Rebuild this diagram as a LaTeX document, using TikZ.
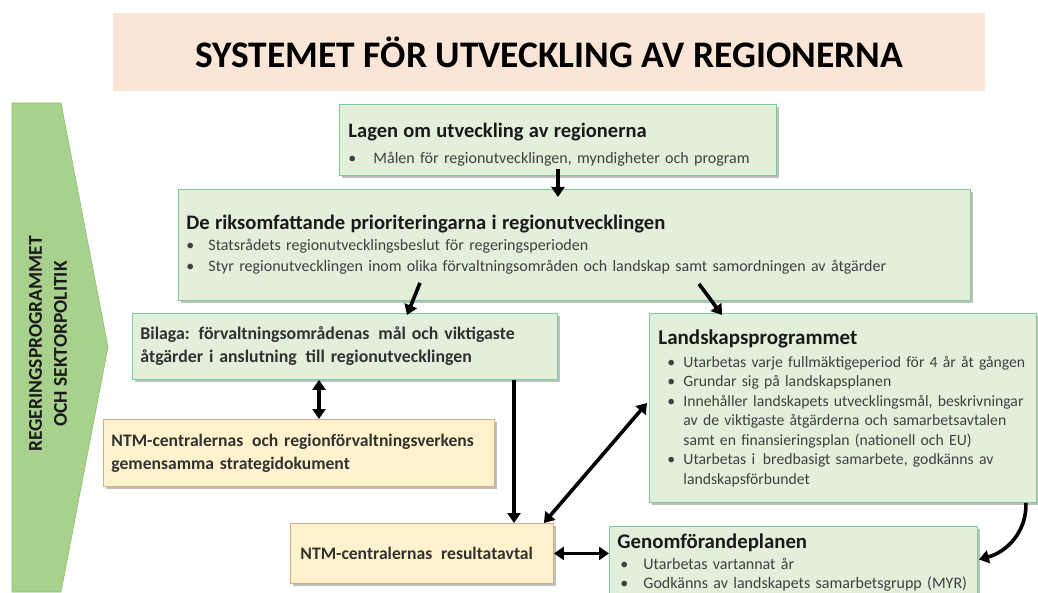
\documentclass[tikz,border=0pt]{standalone}
\usepackage{fontspec}
\setmainfont{Carlito}
\usetikzlibrary{arrows.meta,calc,shadows}
\definecolor{gfill}{HTML}{E2EFDA}
\definecolor{gline}{HTML}{7DCB97}
\definecolor{ofill}{HTML}{FFF2CC}
\definecolor{oline}{HTML}{DFA982}
\definecolor{pfill}{HTML}{FBE5D6}
\definecolor{cfill}{HTML}{A9D18E}
\definecolor{cline}{HTML}{8CBF70}
\definecolor{txt}{HTML}{404040}
\definecolor{ttl}{HTML}{1A1A1A}
\newcommand\fs[2]{\fontsize{#1}{#2}\selectfont}
\newcommand\bli[2]{\hspace*{#1}\makebox[#2][l]{\textbullet}}
\tikzset{
  boxbase/.style={line width=0.9pt, anchor=north west, align=left, inner ysep=0pt,
    drop shadow={shadow xshift=2.5pt, shadow yshift=-2.5pt, opacity=0.25, fill=black}},
  gbox/.style={boxbase, draw=gline, fill=gfill, text=txt},
  obox/.style={boxbase, draw=oline, fill=ofill, text=ttl!90, font=\bfseries\fs{17.6}{23}},
  arr/.style={line width=3.6pt, -{Triangle[length=10pt,width=13pt]}},
  darr/.style={line width=3.6pt, {Triangle[length=10pt,width=13pt]}-{Triangle[length=10pt,width=13pt]}},
}
\begin{document}
\begin{tikzpicture}[x=1pt,y=-1pt]
\useasboundingbox (0,0) rectangle (1038,593);
% title banner
\node[fill=pfill, anchor=north west, minimum width=872pt, minimum height=78pt, inner sep=0pt,
  font=\bfseries\fs{37.5}{40}, text=black] (ban) at (113,13) {SYSTEMET FÖR UTVECKLING AV REGIONERNA};
% left chevron
\draw[cline, fill=cfill, line width=0.6pt] (12,103) -- (61,103) -- (108,347) -- (61,592) -- (12,592) -- cycle;
\node[rotate=90, align=center, font=\bfseries\fs{19.5}{25}, text=ttl] (chev) at (48,344) {REGERINGSPROGRAMMET\\OCH SEKTORPOLITIK};
% boxes
\node[gbox, minimum width=437pt, minimum height=71pt, text width=419pt, inner xsep=9pt, font=\fs{16}{20}] (b1) at (339,104)
 {\rule{0pt}{6pt}\\[-2pt]{\bfseries\color{ttl}\fs{20.5}{22}Lagen om utveckling av regionerna}\\[6pt]
  \mbox{\bli{0pt}{25pt}Målen för regionutvecklingen, myndigheter och program}};
\node[gbox, minimum width=792pt, minimum height=111pt, text width=776pt, inner xsep=8pt, font=\fs{16}{21}] (b2) at (178,189)
 {{\bfseries\color{ttl}\fs{20.6}{22}De riksomfattande prioriteringarna i regionutvecklingen}\\
  \mbox{\bli{0pt}{22pt}Statsrådets regionutvecklingsbeslut för regeringsperioden}\\
  \mbox{\bli{0pt}{22pt}Styr regionutvecklingen inom olika förvaltningsområden och landskap samt samordningen av åtgärder}};
\node[gbox, minimum width=425pt, minimum height=66pt, text width=409pt, inner xsep=8pt, text=ttl!90, font=\bfseries\fs{17.8}{23}] (b3) at (132,313)
 {\mbox{Bilaga: förvaltningsområdenas\, mål och viktigaste}\\
  \mbox{åtgärder i anslutning\, till regionutvecklingen}};
\node[obox, minimum width=391pt, minimum height=67pt, text width=375pt, inner xsep=8pt] (b4) at (103,419)
 {\mbox{NTM-centralernas\, och regionförvaltningsverkens}\\
  \mbox{gemensamma strategidokument}};
\node[obox, minimum width=263pt, minimum height=60pt, text width=243pt, inner xsep=10pt] (b5) at (290,523)
 {\mbox{NTM-centralernas\, resultatavtal}};
\node[gbox, minimum width=387pt, minimum height=189pt, text width=369pt, inner xsep=9pt, font=\fs{15.7}{19.5}] (b7) at (649,313)
 {{\bfseries\color{ttl}\fs{21}{22}Landskapsprogrammet}\\[3.5pt]
  \mbox{\bli{9pt}{16pt}Utarbetas varje fullmäktigeperiod för 4 år åt gången}\\
  \mbox{\bli{9pt}{16pt}Grundar sig på landskapsplanen}\\
  \mbox{\bli{9pt}{16pt}Innehåller landskapets utvecklingsmål, beskrivningar}\\
  \mbox{\hspace*{25pt}av de viktigaste åtgärderna och samarbetsavtalen}\\
  \mbox{\hspace*{25pt}samt en finansieringsplan (nationell och EU)}\\
  \mbox{\bli{9pt}{16pt}Utarbetas i\, bredbasigt samarbete, godkänns av}\\
  \mbox{\hspace*{25pt}landskapsförbundet}};
\node[gbox, minimum width=368pt, minimum height=72pt, text width=352pt, inner xsep=8pt, font=\fs{16}{19.5}] (b6) at (609,526)
 {{\bfseries\color{ttl}\fs{20.8}{22}Genomförandeplanen}\\[1.5pt]
  \mbox{\bli{3pt}{23pt}Utarbetas vartannat år}\\
  \mbox{\bli{3pt}{23pt}Godkänns av landskapets samarbetsgrupp (MYR)}};
% connectors
\draw[arr, shorten <=-7pt, shorten >=-8pt] (b1.south) -- (b2.north -| b1.south);
\draw[arr] ($(b2.south west)+(242,-18)$) -- ($(b3.north west)+(275,2)$);
\draw[arr] ($(b2.south west)+(521,-17)$) -- ($(b7.north west)+(73,2)$);
\draw[darr] ($(b3.south west)+(187,0)$) -- ($(b4.north west)+(216,0)$);
\coordinate (v5) at ($(b3.south west)+(382,0)$);
\draw[arr] (v5) -- (b5.north -| v5);
\draw[darr] (b5.east) -- (b5.east -| b6.west);
\draw[darr] ($(b7.north west)+(-2,90)$) -- ($(b5.north east)+(-10,0)$);
\draw[arr] ($(b7.south east)+(-11,0)$) to[out=-88,in=15] ($(b6.east)+(1,-3)$);
\end{tikzpicture}
\end{document}
